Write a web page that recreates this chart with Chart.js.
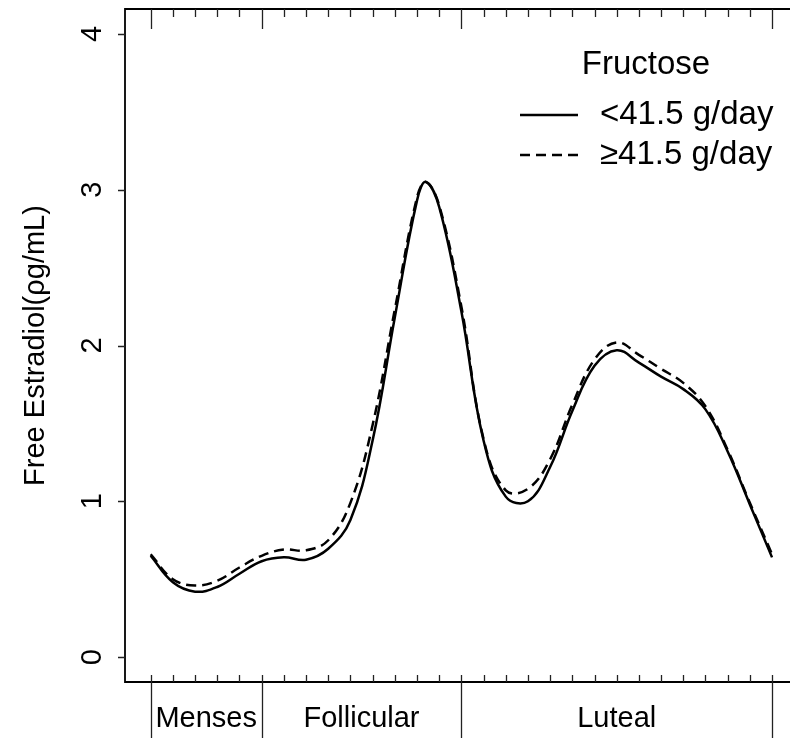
<!DOCTYPE html>
<html>
<head>
<meta charset="utf-8">
<script src="https://cdn.jsdelivr.net/npm/chart.js@4"></script>
<style>
html, body { margin: 0; padding: 0; background: #fff; overflow: hidden; }
#wrap { width: 790px; height: 738px; }
</style>
</head>
<body>
<div id="wrap"><canvas id="chart" width="790" height="738"></canvas></div>
<script>
// cycle day (0 = start of menses), 12.4 is the read-off peak
const days = [0, 1, 2, 3, 4, 5, 6, 7, 8, 9, 10, 11, 12, 12.4, 13, 14, 15, 16, 17, 18, 19, 20, 21, 22, 23, 24, 25, 26, 27, 28];
const lowFructose = [0.65, 0.48, 0.42, 0.45, 0.535, 0.615, 0.64, 0.625, 0.695, 0.88, 1.39, 2.18, 2.93, 3.05, 2.89, 2.22, 1.39, 1.03, 1.00, 1.22, 1.58, 1.87, 1.97, 1.89, 1.80, 1.72, 1.59, 1.32, 0.98, 0.64];
const highFructose = [0.66, 0.50, 0.46, 0.49, 0.575, 0.65, 0.69, 0.685, 0.75, 0.99, 1.49, 2.23, 2.95, 3.05, 2.90, 2.25, 1.40, 1.07, 1.08, 1.27, 1.62, 1.91, 2.02, 1.94, 1.85, 1.76, 1.61, 1.33, 0.99, 0.66];
const seriesNames = ['<41.5 g/day', '\u226541.5 g/day'];
const phaseBreaks = [0, 5, 14, 28];
const phaseNames = ['Menses', 'Follicular', 'Luteal'];
const yTicks = [0, 1, 2, 3, 4];

const FONT = '29px "Liberation Sans", Arial, sans-serif';
const LEGEND_FONT = '33px "Liberation Sans", Arial, sans-serif';

const rAxes = {
    id: 'rAxes',
    afterDraw(chart) {
        const ctx = chart.ctx;
        const a = chart.chartArea;
        const xs = chart.scales.x, ys = chart.scales.y;
        ctx.save();

        // box (left, top, bottom)
        ctx.strokeStyle = '#000';
        ctx.lineWidth = 1.8;
        ctx.beginPath();
        ctx.moveTo(a.right + 2, a.top); ctx.lineTo(a.left, a.top);
        ctx.lineTo(a.left, a.bottom); ctx.lineTo(a.right + 2, a.bottom);
        ctx.stroke();

        // x ticks, top and bottom, pointing inwards
        ctx.strokeStyle = '#222';
        ctx.lineWidth = 1.3;
        ctx.beginPath();
        for (let d = 0; d <= 28; d++) {
            const px = Math.round(xs.getPixelForValue(d)) + 0.5;
            const major = phaseBreaks.includes(d);
            ctx.moveTo(px, a.top); ctx.lineTo(px, a.top + (major ? 20 : 8));
            ctx.moveTo(px, a.bottom); ctx.lineTo(px, a.bottom - 7);
            if (major) { ctx.moveTo(px, a.bottom - 7); ctx.lineTo(px, chart.height); }
        }
        // y ticks
        yTicks.forEach(v => {
            const py = Math.round(ys.getPixelForValue(v)) + 0.5;
            ctx.moveTo(a.left, py); ctx.lineTo(a.left - 7, py);
        });
        ctx.stroke();

        ctx.fillStyle = '#000';
        ctx.font = FONT;
        ctx.textAlign = 'center';
        ctx.textBaseline = 'middle';

        // phase names
        for (let i = 0; i < phaseNames.length; i++) {
            const mid = (xs.getPixelForValue(phaseBreaks[i]) + xs.getPixelForValue(phaseBreaks[i + 1])) / 2;
            ctx.fillText(phaseNames[i], mid, 719);
        }

        // y tick labels, rotated like R
        yTicks.forEach(v => {
            ctx.save();
            ctx.translate(93, ys.getPixelForValue(v));
            ctx.rotate(-Math.PI / 2);
            ctx.fillText(String(v), 0, 0);
            ctx.restore();
        });

        // y title
        ctx.save();
        ctx.translate(36, (a.top + a.bottom) / 2);
        ctx.rotate(-Math.PI / 2);
        ctx.fillText('Free Estradiol(\u03c1g/mL)', 0, 0);
        ctx.restore();

        // legend
        ctx.font = LEGEND_FONT;
        ctx.fillText('Fructose', 646, 65);
        ctx.textAlign = 'left';
        chart.data.datasets.forEach((ds, i) => {
            const y = 115 + i * 40;
            ctx.strokeStyle = ds.borderColor;
            ctx.lineWidth = ds.borderWidth;
            ctx.setLineDash(ds.borderDash || []);
            ctx.beginPath();
            ctx.moveTo(520, y); ctx.lineTo(578, y);
            ctx.stroke();
            ctx.setLineDash([]);
            ctx.fillText(ds.label, 600, y);
        });
        ctx.restore();
    }
};

new Chart(document.getElementById('chart'), {
    type: 'line',
    data: {
        datasets: [{
            label: seriesNames[0],
            data: days.map((d, i) => ({ x: d, y: lowFructose[i] })),
            borderColor: '#000',
            borderWidth: 2.5,
            pointRadius: 0,
            tension: 0.4
        }, {
            label: seriesNames[1],
            data: days.map((d, i) => ({ x: d, y: highFructose[i] })),
            borderColor: '#000',
            borderWidth: 2.5,
            borderDash: [10, 6],
            pointRadius: 0,
            tension: 0.4
        }]
    },
    options: {
        responsive: false,
        animation: false,
        layout: { padding: { left: 125, top: 9, right: 0, bottom: 56 } },
        plugins: { legend: { display: false }, tooltip: { enabled: false } },
        scales: {
            x: { type: 'linear', min: -1.158, max: 28.81, display: false },
            y: { min: -0.16, max: 4.16, display: false }
        }
    },
    plugins: [rAxes]
});
</script>
</body>
</html>
